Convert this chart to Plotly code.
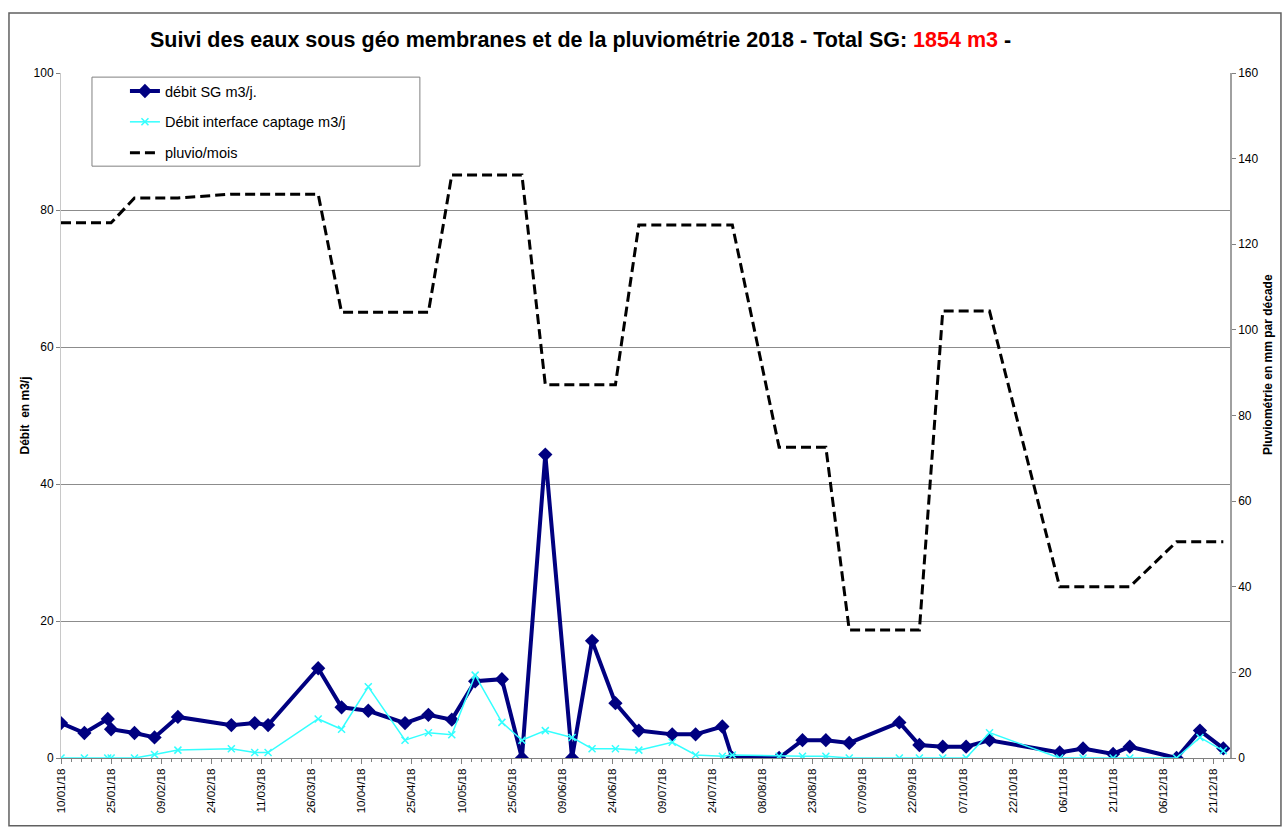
import plotly.graph_objects as go

# ---------------- data ----------------
dates = [
    "2018-01-10", "2018-01-17", "2018-01-24", "2018-01-25", "2018-02-01", "2018-02-07",
    "2018-02-14", "2018-03-02", "2018-03-09", "2018-03-13", "2018-03-28", "2018-04-04",
    "2018-04-12", "2018-04-23", "2018-04-30", "2018-05-07", "2018-05-14", "2018-05-22",
    "2018-05-28", "2018-06-04", "2018-06-12", "2018-06-18", "2018-06-25", "2018-07-02",
    "2018-07-12", "2018-07-19", "2018-07-27", "2018-07-30", "2018-08-13", "2018-08-20",
    "2018-08-27", "2018-09-03", "2018-09-18", "2018-09-24", "2018-10-01", "2018-10-08",
    "2018-10-15", "2018-11-05", "2018-11-12", "2018-11-21", "2018-11-26", "2018-12-10",
    "2018-12-17", "2018-12-24",
]
debit_sg = [
    5.1, 3.65, 5.7, 4.2, 3.65, 3.0,
    6.0, 4.8, 5.1, 4.8, 13.1, 7.4,
    6.9, 5.1, 6.3, 5.6, 11.2, 11.5,
    0.0, 44.3, 0.0, 17.1, 8.0, 4.0,
    3.45, 3.45, 4.6, 0.0, 0.0, 2.6,
    2.6, 2.2, 5.2, 1.9, 1.65, 1.65,
    2.6, 0.8, 1.4, 0.6, 1.65, 0.0,
    4.0, 1.4,
]
debit_interface = [
    0.0, 0.0, 0.0, 0.0, 0.0, 0.5,
    1.15, 1.35, 0.8, 0.8, 5.7, 4.2,
    10.4, 2.6, 3.7, 3.4, 12.1, 5.2,
    2.6, 4.0, 3.0, 1.35, 1.35, 1.15,
    2.3, 0.45, 0.25, 0.45, 0.25, 0.25,
    0.25, 0.0, 0.0, 0.0, 0.0, 0.0,
    3.7, 0.0, 0.0, 0.0, 0.0, 0.0,
    3.0, 1.05,
]
pluvio = [
    125.0, 125.0, 125.0, 125.0, 130.8, 130.8,
    130.8, 131.7, 131.7, 131.7, 131.7, 104.1,
    104.1, 104.1, 104.1, 136.2, 136.2, 136.2,
    136.2, 87.2, 87.2, 87.2, 87.2, 124.5,
    124.5, 124.5, 124.5, 124.5, 72.6, 72.6,
    72.6, 29.9, 29.9, 29.9, 104.4, 104.4,
    104.4, 40.0, 40.0, 40.0, 40.0, 50.5,
    50.5, 50.5,
]

FONT = "Arial, 'Liberation Sans', sans-serif"
DAY = 86400000

fig = go.Figure()
fig.add_trace(go.Scatter(
    x=dates, y=debit_sg, name="débit SG m3/j.", mode="lines+markers",
    line=dict(color="#000080", width=4),
    marker=dict(symbol="diamond", size=11, color="#000080"),
    legendgroup="a",
))
fig.add_trace(go.Scatter(
    x=dates, y=debit_interface, name="Débit interface captage m3/j", mode="lines+markers",
    line=dict(color="#33FFFF", width=1.5),
    marker=dict(symbol="x-thin", size=7, color="#33FFFF", line=dict(color="#33FFFF", width=1.5)),
    legendgroup="b",
))
fig.add_trace(go.Scatter(
    x=dates, y=pluvio, name="pluvio/mois", mode="lines", yaxis="y2",
    line=dict(color="black", width=3, dash="10px,5px"),
    legendgroup="c",
))

fig.update_layout(
    width=1284, height=827,
    margin=dict(l=61, r=54, t=73, b=69),
    paper_bgcolor="white", plot_bgcolor="white",
    font=dict(family=FONT, size=12, color="black"),
    showlegend=True,
    legend=dict(
        x=0.0547, y=0.997, xanchor="left", yanchor="top",
        bgcolor="rgba(0,0,0,0)", borderwidth=0,
        font=dict(family=FONT, size=14.5, color="black"),
        tracegroupgap=9, itemwidth=30,
    ),
    xaxis=dict(
        type="date",
        range=["2018-01-10", "2018-12-26"],
        tick0="2018-01-10", dtick=15 * DAY, tickformat="%d/%m/%y",
        tickangle=-90, ticks="outside", ticklen=5, tickcolor="#808080",
        showline=True, linecolor="#808080", linewidth=1,
        showgrid=False, zeroline=False,
        tickfont=dict(family=FONT, size=11.5, color="black"),
        minor=dict(tick0="2018-01-10", dtick=3 * DAY, ticks="outside",
                   ticklen=3, tickcolor="#808080", showgrid=False),
    ),
    yaxis=dict(
        range=[0, 100], dtick=20,
        ticks="outside", ticklen=4, tickcolor="#808080",
        showline=True, linecolor="#C8C8C8", linewidth=1,
        showgrid=True, gridcolor="#8C8C8C", gridwidth=1,
        zeroline=False,
        tickfont=dict(family=FONT, size=12, color="black"),
    ),
    yaxis2=dict(
        range=[0, 160], dtick=20, overlaying="y", side="right",
        ticks="outside", ticklen=4, tickcolor="#808080",
        showline=True, linecolor="#A0A0A0", linewidth=1.5,
        showgrid=False, zeroline=False,
        tickfont=dict(family=FONT, size=12, color="black"),
    ),
)

# outer chart border
fig.add_shape(type="rect", xref="paper", yref="paper",
              x0=-0.0445, x1=1.0436, y0=-0.099, y1=1.0876,
              line=dict(color="#606060", width=1.5), fillcolor="rgba(0,0,0,0)", layer="below")
# legend box
fig.add_shape(type="rect", xref="paper", yref="paper",
              x0=0.0265, x1=0.307, y0=0.864, y1=0.994,
              line=dict(color="#808080", width=1), fillcolor="white", layer="above")

# title
fig.add_annotation(
    xref="paper", yref="paper", x=0.444, y=1.0482, xanchor="center", yanchor="middle",
    showarrow=False,
    text="<b>Suivi des eaux sous géo membranes et de la pluviométrie 2018 - Total SG: "
         "<span style='color:#FF0000'>1854 m3</span> -</b>",
    font=dict(family=FONT, size=21.5, color="black"),
)
# axis titles
fig.add_annotation(
    xref="paper", yref="paper", x=-0.0308, y=0.5, xanchor="center", yanchor="middle",
    showarrow=False, textangle=-90,
    text="<b>Débit  en m3/j</b>", font=dict(family=FONT, size=12, color="black"),
)
fig.add_annotation(
    xref="paper", yref="paper", x=1.0325, y=0.575, xanchor="center", yanchor="middle",
    showarrow=False, textangle=-90,
    text="<b>Pluviométrie en mm par décade</b>", font=dict(family=FONT, size=12, color="black"),
)

fig.write_html("out.html", config={"displayModeBar": False},
               post_script="document.body.style.margin='0px';")
